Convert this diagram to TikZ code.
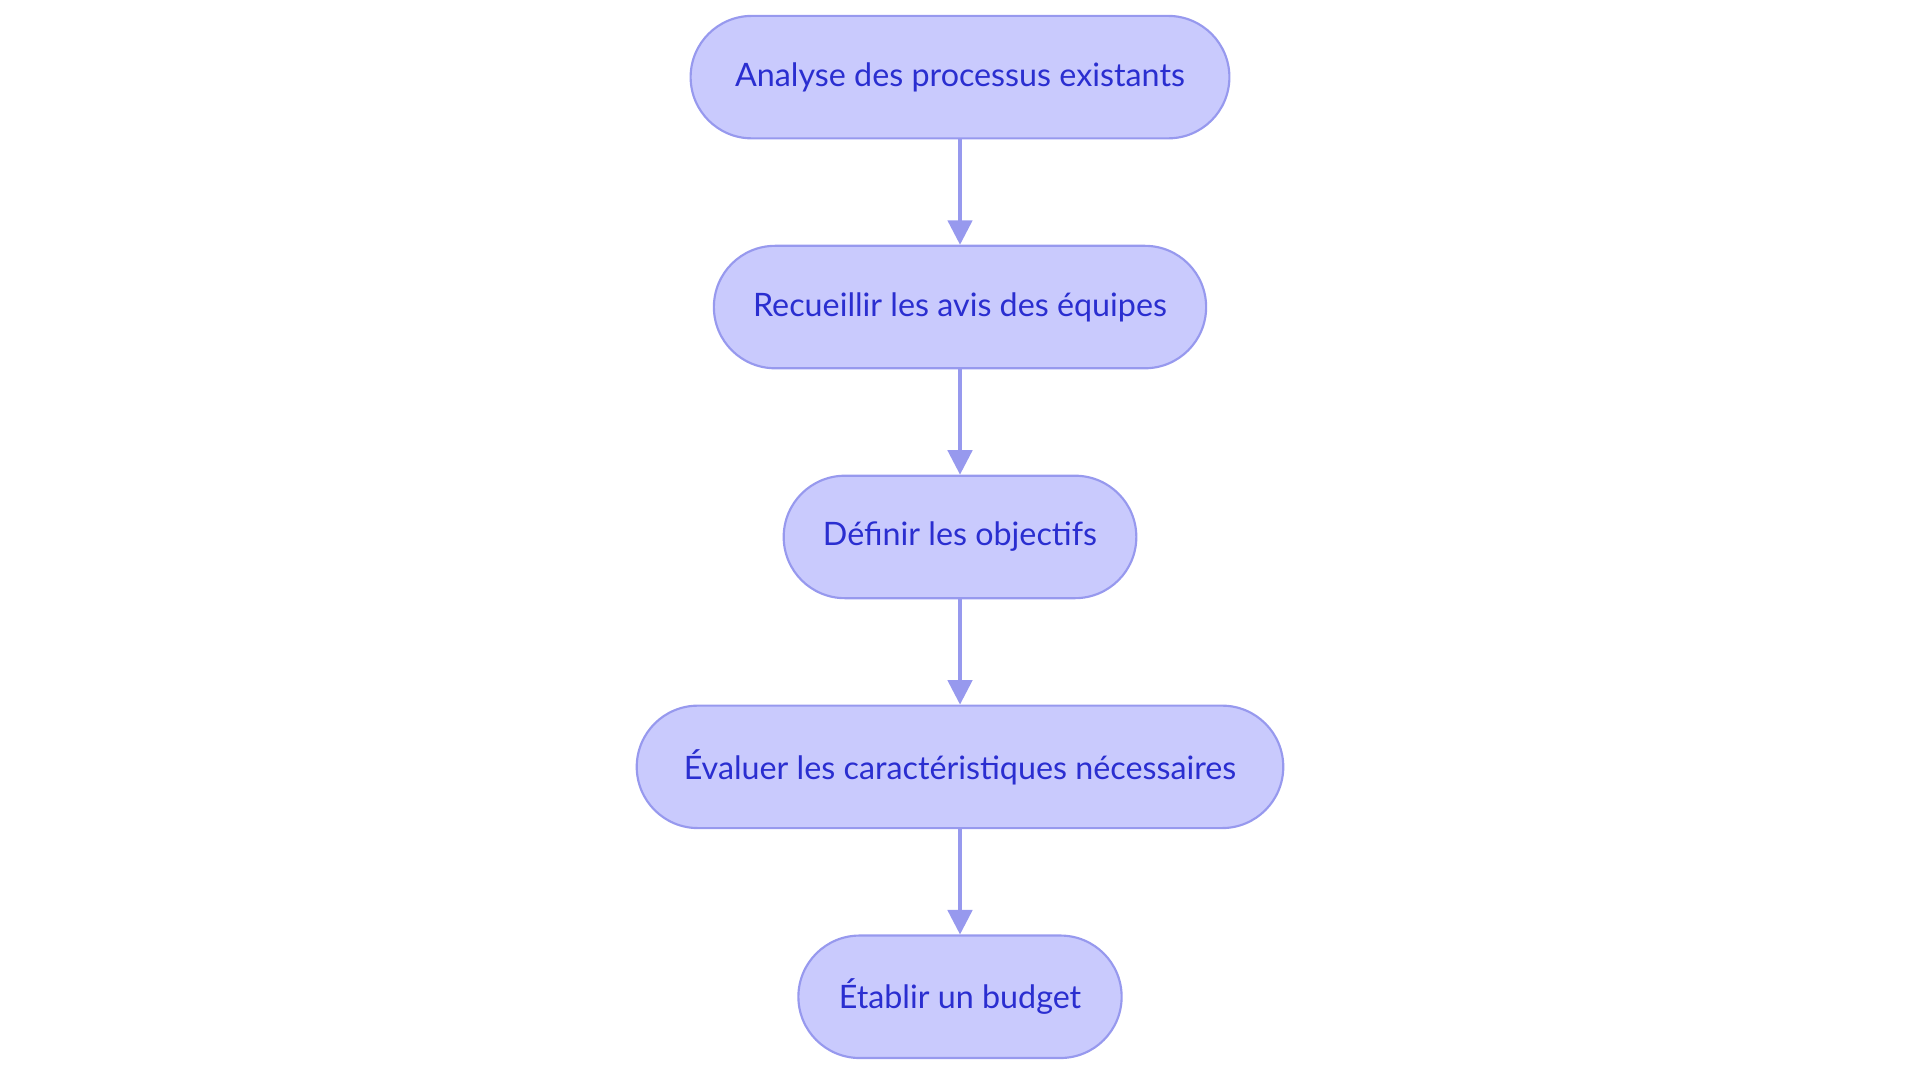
\documentclass[tikz,border=0pt]{standalone}
\usepackage{fontspec}
\setmainfont{Lato}
\usetikzlibrary{positioning,arrows.meta}
\definecolor{stepfill}{HTML}{C9CAFD}
\definecolor{stepdraw}{HTML}{9799EE}
\definecolor{steptext}{HTML}{2A2ED0}
\tikzset{
  stage/.style={draw=stepdraw, fill=stepfill, text=steptext, line width=1pt,
    rounded corners=1cm, minimum height=2cm, inner xsep=0pt,
    font=\fontsize{15}{18}\selectfont},
  flow/.style={draw=stepdraw, line width=1.6pt, -{Triangle[length=0.4cm,width=0.4cm]}}
}
\begin{document}
\begin{tikzpicture}[node distance=1.72cm]
	\useasboundingbox (0,0) rectangle (31.36,-17.68);
	\node[stage, minimum width=8.8cm] (analyse) at (15.68,-1.26) {Analyse des processus existants};
	\node[stage, minimum width=8.04cm, below=of analyse] (avis) {Recueillir les avis des équipes};
	\node[stage, minimum width=5.76cm, below=of avis] (objectifs) {Définir les objectifs};
	\node[stage, minimum width=10.56cm, below=of objectifs] (evaluer) {Évaluer les caractéristiques nécessaires};
	\node[stage, minimum width=5.28cm, below=of evaluer] (budget) {Établir un budget};
	%
	\draw[flow] (analyse) -- (avis);
	\draw[flow] (avis) -- (objectifs);
	\draw[flow] (objectifs) -- (evaluer);
	\draw[flow] (evaluer) -- (budget);
\end{tikzpicture}
\end{document}
